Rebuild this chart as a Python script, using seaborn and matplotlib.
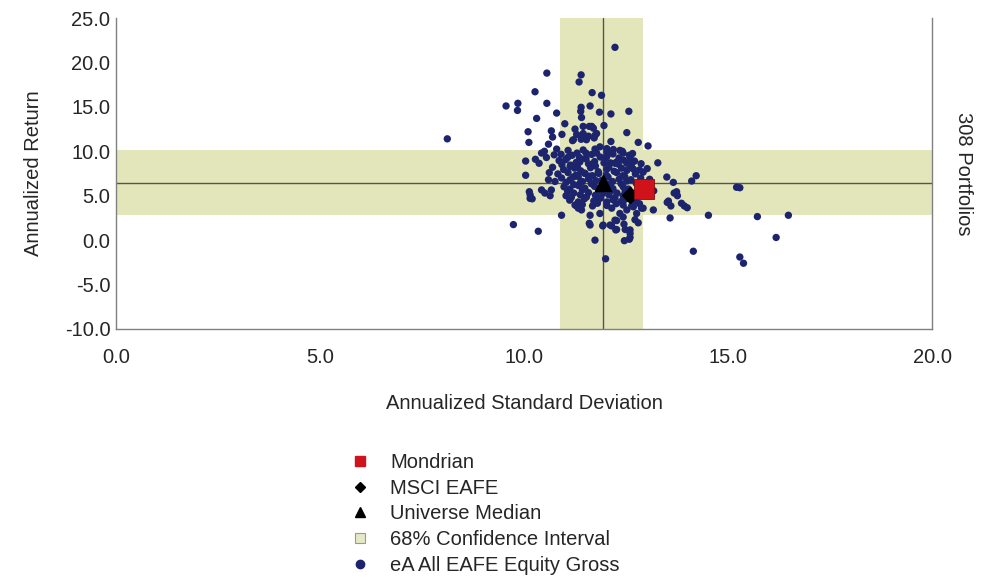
import matplotlib
matplotlib.use("Agg")
import matplotlib.pyplot as plt
from matplotlib.lines import Line2D
import seaborn as sns
import pandas as pd

sns.set_style("white")
plt.rcParams['font.family'] = ['Liberation Sans', 'DejaVu Sans']

# eA All EAFE Equity Gross universe (annualized std dev, annualized return)
universe_std = [
    12.23, 10.56, 11.40, 11.35, 10.27, 11.67, 11.90, 9.56, 9.85, 9.84,
    10.56, 10.80, 11.40, 11.39, 11.62, 11.85, 12.13, 12.57, 11.41, 10.31,
    11.00, 11.96, 8.12, 10.10, 10.12, 10.67, 10.70, 10.93, 11.25, 11.45,
    11.60, 11.29, 11.21, 11.41, 11.58, 11.72, 11.78, 12.13, 12.52, 12.80,
    13.04, 10.60, 13.28, 13.50, 10.04, 10.04, 11.70, 10.28, 10.37, 10.43,
    10.50, 10.74, 10.80, 10.91, 10.86, 10.93, 11.07, 11.13, 11.30, 11.37,
    11.19, 11.40, 11.45, 11.52, 10.60, 10.76, 11.21, 11.37, 11.50, 12.19,
    12.35, 12.43, 12.60, 12.66, 12.83, 12.68, 12.52, 12.27, 11.66, 11.45,
    11.74, 11.53, 11.86, 12.03, 11.78, 12.03, 12.23, 10.13, 10.15, 10.43,
    10.51, 10.64, 10.92, 9.74, 10.35, 11.74, 12.00, 11.62, 11.93, 12.15,
    12.25, 12.46, 12.60, 12.60, 12.45, 12.27, 12.72, 12.76, 11.29, 11.41,
    11.62, 11.86, 12.15, 12.43, 12.88, 13.17, 13.66, 13.51, 13.60, 13.58,
    13.74, 13.68, 13.76, 14.11, 14.22, 15.21, 15.29, 13.54, 13.86, 13.93,
    14.00, 14.52, 15.72, 16.48, 16.18, 14.15, 15.29, 15.38, 10.15, 10.67,
    10.20, 11.25, 11.33, 11.60, 11.94, 12.11, 12.23, 12.27, 12.48, 12.60,
    12.58, 12.80, 12.92, 12.52, 12.43, 12.68, 12.35, 10.55, 10.70, 10.62,
    # core of the distribution
    11.08, 11.52, 11.74, 12.04, 12.41, 12.66,
    11.18, 11.36, 11.66, 11.87, 12.18, 12.33, 12.58,
    11.02, 11.28, 11.51, 11.73, 11.99, 12.12, 12.44, 12.71,
    11.14, 11.31, 11.58, 11.75, 11.96, 12.08, 12.31, 12.63, 12.87,
    10.97, 11.24, 11.39, 11.63, 11.82, 12.03, 12.21, 12.39, 12.52, 13.02,
    10.83, 11.08, 11.27, 11.48, 11.62, 11.83, 12.02, 12.27, 12.42, 12.73, 12.92,
    10.92, 11.13, 11.33, 11.58, 11.68, 11.91, 12.06, 12.33, 12.47, 12.62, 12.86, 13.08,
    11.03, 11.22, 11.43, 11.65, 11.76, 12.04, 12.17, 12.38, 12.52, 12.75,
    10.98, 11.12, 11.33, 11.49, 11.73, 11.83, 12.08, 12.18, 12.43, 12.56, 12.82,
    11.07, 11.22, 11.43, 11.58, 11.83, 11.93, 12.15, 12.28, 12.48, 12.67, 13.18,
    11.03, 11.16, 11.38, 11.53, 11.75, 11.88, 12.08, 12.23, 12.43, 12.53, 12.81,
    11.12, 11.33, 11.48, 11.71, 11.83, 12.03, 12.18, 12.38, 12.48, 12.73,
    11.43, 11.68, 11.80, 12.03, 12.26, 12.64, 12.83,
]
universe_ret = [
    21.70, 18.80, 18.60, 17.80, 16.70, 16.60, 16.30, 15.10, 15.40, 14.60,
    15.40, 14.30, 14.95, 14.50, 15.10, 14.40, 14.20, 14.50, 13.80, 13.70,
    13.10, 12.90, 11.40, 12.20, 11.00, 12.30, 11.60, 11.90, 12.50, 12.80,
    12.80, 11.90, 11.30, 11.50, 11.70, 11.50, 12.00, 11.10, 12.10, 11.00,
    10.60, 10.80, 8.70, 7.10, 8.90, 7.30, 12.60, 9.10, 8.65, 9.80,
    10.00, 9.60, 10.25, 9.66, 8.95, 8.50, 9.30, 8.30, 9.80, 8.80,
    11.20, 11.35, 10.15, 9.20, 6.80, 6.60, 7.10, 6.40, 7.50, 10.20,
    10.10, 9.80, 9.30, 8.80, 7.90, 8.00, 8.65, 8.80, 12.80, 12.00,
    11.80, 11.30, 10.50, 10.30, 9.80, 9.40, 8.65, 5.45, 4.70, 5.65,
    5.30, 5.00, 2.80, 1.75, 1.00, 0.00, -2.10, 1.70, 1.60, 1.60,
    1.15, -0.06, 0.30, 1.15, 1.80, 2.20, 2.30, 3.00, 3.85, 3.40,
    2.80, 3.00, 3.60, 2.60, 3.60, 3.40, 6.50, 4.25, 3.85, 2.50,
    5.45, 5.30, 5.00, 6.65, 7.25, 5.95, 5.90, 4.40, 4.15, 3.85,
    3.65, 2.80, 2.65, 2.80, 0.30, -1.25, -1.90, -2.60, 5.10, 5.65,
    4.65, 3.95, 3.60, 1.90, 1.70, 1.70, 2.25, 1.20, 1.20, 0.75,
    0.10, 1.95, 3.60, 3.40, 3.95, 3.75, 3.00, 9.30, 8.20, 7.60,
    # core of the distribution
    10.10, 9.80, 10.25, 9.90, 10.00, 9.75,
    9.55, 9.30, 9.65, 9.35, 9.70, 9.25, 9.55,
    9.05, 8.75, 9.15, 8.85, 9.20, 8.70, 9.00, 8.90,
    8.45, 8.25, 8.60, 8.35, 8.70, 8.20, 8.55, 8.30, 8.60,
    7.95, 8.10, 7.80, 8.15, 7.70, 8.00, 7.75, 8.10, 7.85, 8.05,
    7.45, 7.60, 7.30, 7.55, 7.20, 7.50, 7.30, 7.60, 7.25, 7.45, 7.65,
    7.00, 6.80, 7.15, 6.90, 7.25, 6.75, 7.10, 6.85, 7.15, 6.80, 7.00, 6.85,
    6.50, 6.25, 6.60, 6.35, 6.70, 6.30, 6.60, 6.35, 6.65, 6.40,
    6.00, 5.75, 6.15, 5.85, 6.05, 5.70, 6.10, 5.80, 6.00, 5.75, 6.15,
    5.50, 5.30, 5.65, 5.35, 5.55, 5.25, 5.60, 5.30, 5.50, 5.25, 5.55,
    5.00, 4.80, 5.10, 4.85, 5.05, 4.75, 5.10, 4.80, 5.00, 4.70, 5.00,
    4.50, 4.30, 4.65, 4.40, 4.60, 4.30, 4.55, 4.35, 4.60, 4.40,
    4.00, 3.85, 4.15, 3.90, 4.10, 3.85, 4.10,
]

# benchmarks / highlights
mondrian = (12.95, 5.75)
msci_eafe = (12.60, 5.05)
median = (11.94, 6.43)
ci_std = (10.88, 12.92)
ci_ret = (2.83, 10.14)

x_ticks = [0.0, 5.0, 10.0, 15.0, 20.0]
y_ticks = [-10.0, -5.0, 0.0, 5.0, 10.0, 15.0, 20.0, 25.0]

band_color = '#e3e6bb'
dot_color = '#1c246e'
fs = 14.5

fig = plt.figure(figsize=(9.86, 5.77), dpi=100)
ax = fig.add_axes([116 / 986, 1 - 329 / 577, 816 / 986, 311 / 577])

ax.axvspan(ci_std[0], ci_std[1], color=band_color, lw=0, zorder=0)
ax.axhspan(ci_ret[0], ci_ret[1], color=band_color, lw=0, zorder=0)
ax.axvline(median[0], color='#555548', lw=1.0, zorder=1)
ax.axhline(median[1], color='#555548', lw=1.0, zorder=1)

df = pd.DataFrame({'std': universe_std, 'ret': universe_ret})
sns.scatterplot(data=df, x='std', y='ret', ax=ax, color=dot_color, s=28,
                edgecolor='none', linewidth=0, zorder=3)

ax.plot(*median, marker='^', color='black', markersize=11, ls='none', zorder=4)
ax.plot(*msci_eafe, marker='D', color='black', markersize=8, ls='none', zorder=4)
ax.plot(*mondrian, marker='s', color='#d0121b', markeredgecolor='#8a0c10',
        markeredgewidth=0.6, markersize=14, ls='none', zorder=5)

ax.set_xlim(0, 20)
ax.set_ylim(-10, 25)
ax.set_xticks(x_ticks)
ax.set_yticks(y_ticks)
ax.set_xticklabels([f'{v:.1f}' for v in x_ticks], fontsize=fs)
ax.set_yticklabels([f'{v:.1f}' for v in y_ticks], fontsize=fs)
ax.tick_params(axis='x', length=0, pad=14)
ax.tick_params(axis='y', direction='in', length=7, color='#808080', pad=4)

for side in ['left', 'bottom', 'right']:
    ax.spines[side].set_color('#808080')
    ax.spines[side].set_linewidth(1.0)
ax.spines['top'].set_visible(False)

ax.set_xlabel('Annualized Standard Deviation', fontsize=fs, labelpad=19)
ax.set_ylabel('Annualized Return', fontsize=fs, labelpad=16)
ax.text(1.038, 0.5, '308 Portfolios', transform=ax.transAxes, rotation=270,
        ha='center', va='center', fontsize=fs)

handles = [
    Line2D([], [], marker='s', color='#d0121b', ls='none', markersize=7),
    Line2D([], [], marker='D', color='black', ls='none', markersize=5),
    Line2D([], [], marker='^', color='black', ls='none', markersize=7),
    Line2D([], [], marker='s', markerfacecolor='#e6e9c6', markeredgecolor='#9a9a90',
           ls='none', markersize=7, markeredgewidth=0.8),
    Line2D([], [], marker='o', color=dot_color, ls='none', markersize=6),
]
labels = ['Mondrian', 'MSCI EAFE', 'Universe Median', '68% Confidence Interval',
          'eA All EAFE Equity Gross']
fig.legend(handles, labels, loc='upper left', bbox_to_anchor=(350 / 986, 1 - 453 / 577),
           frameon=False, fontsize=fs, handlelength=1.0, handletextpad=1.0,
           labelspacing=0.33, borderpad=0, borderaxespad=0)

fig.savefig('out.png', dpi=100)
